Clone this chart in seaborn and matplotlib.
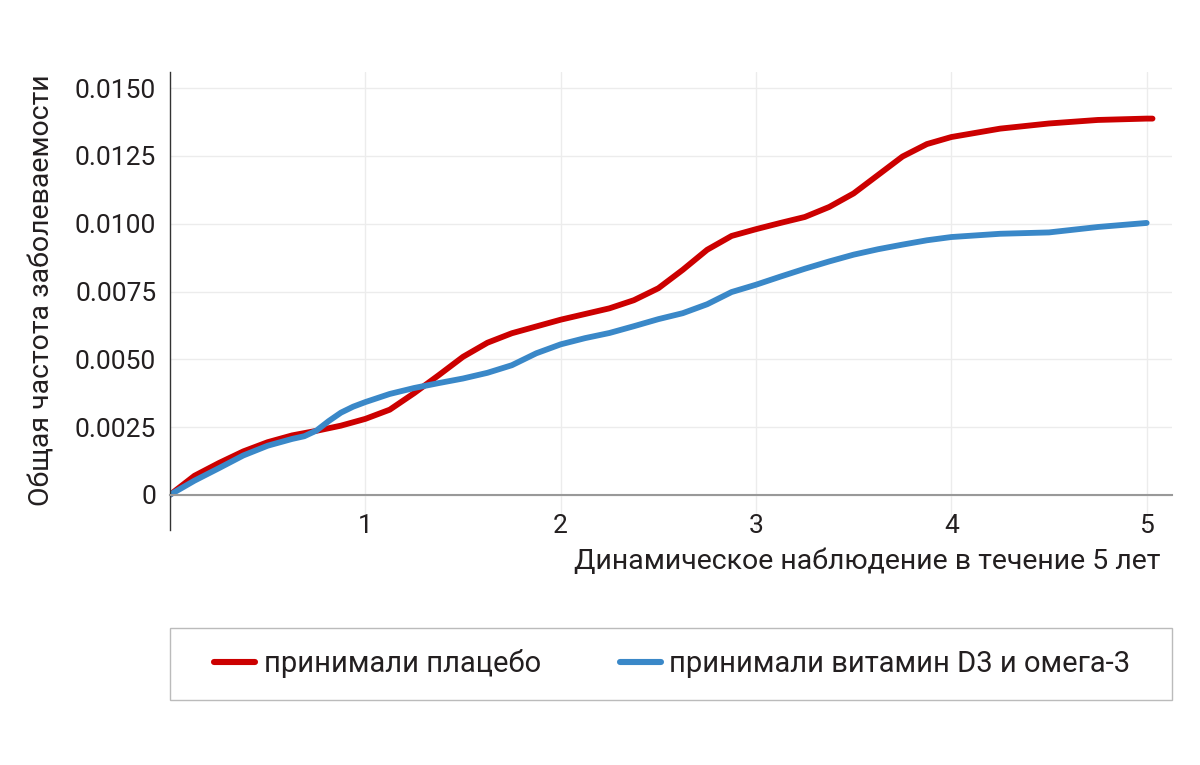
import numpy as np
import pandas as pd
import matplotlib
matplotlib.use("Agg")
import matplotlib.pyplot as plt
import seaborn as sns
from matplotlib.patches import Rectangle

# values
years_placebo = [0, 0.125, 0.25, 0.375, 0.5, 0.625, 0.75, 0.875, 1.0, 1.125, 1.25, 1.375, 1.5,
                 1.625, 1.75, 1.875, 2.0, 2.125, 2.25, 2.375, 2.5, 2.625, 2.75, 2.875, 3.0,
                 3.125, 3.25, 3.375, 3.5, 3.625, 3.75, 3.875, 4.0, 4.25, 4.5, 4.75, 5.0, 5.03]
placebo = [0, 0.0007, 0.00117, 0.0016, 0.00194, 0.00219, 0.00236, 0.00255, 0.0028, 0.00314,
           0.00375, 0.00441, 0.00509, 0.00561, 0.00596, 0.00621, 0.00646, 0.00667, 0.00688,
           0.00718, 0.00762, 0.0083, 0.00904, 0.00955, 0.0098, 0.01003, 0.01025, 0.01062,
           0.01112, 0.0118, 0.01248, 0.01294, 0.0132, 0.01351, 0.0137, 0.01383, 0.01388,
           0.01388]

years_vitamin = [0, 0.125, 0.25, 0.375, 0.5, 0.625, 0.6875, 0.75, 0.8125, 0.875, 0.9375, 1.0,
                 1.125, 1.25, 1.375, 1.5, 1.625, 1.75, 1.875, 2.0, 2.125, 2.25, 2.375, 2.5,
                 2.625, 2.75, 2.875, 3.0, 3.125, 3.25, 3.375, 3.5, 3.625, 3.75, 3.875, 4.0,
                 4.25, 4.5, 4.75, 5.0]
vitamin = [0, 0.00052, 0.00098, 0.00145, 0.00181, 0.00206, 0.00216, 0.00237, 0.00272, 0.00303,
           0.00325, 0.00342, 0.00372, 0.00394, 0.00412, 0.00429, 0.0045, 0.00478, 0.00522,
           0.00555, 0.00578, 0.00597, 0.00622, 0.00648, 0.0067, 0.00703, 0.00748, 0.00775,
           0.00805, 0.00834, 0.00861, 0.00886, 0.00906, 0.00923, 0.00939, 0.00951, 0.00963,
           0.00968, 0.00988, 0.01003]

group_names = ["принимали плацебо", "принимали витамин D3 и омега-3"]
colors = ["#cc0000", "#3a88c8"]

y_ticks = [0, 0.0025, 0.005, 0.0075, 0.01, 0.0125, 0.015]
y_labels = ["0", "0.0025", "0.0050", "0.0075", "0.0100", "0.0125", "0.0150"]
x_ticks = [1, 2, 3, 4, 5]

df = pd.concat([
    pd.DataFrame({"year": years_placebo, "rate": placebo, "group": group_names[0]}),
    pd.DataFrame({"year": years_vitamin, "rate": vitamin, "group": group_names[1]}),
])

sns.set_theme(style="white")
plt.rcParams['font.family'] = ['Roboto', 'DejaVu Sans']
text_color = "#231f20"

fig = plt.figure(figsize=(12, 7.65), dpi=100)
ax = fig.add_axes([0.1417, 0.3072, 0.835, 0.5987])

sns.lineplot(data=df, x="year", y="rate", hue="group", palette=colors,
             hue_order=group_names, linewidth=4.2, ax=ax, legend=False,
             sort=False, estimator=None)
for line in ax.lines:
    line.set_solid_capstyle("round")
    line.set_solid_joinstyle("round")

ax.set_xlim(0, 5.13)
ax.set_ylim(-0.0013, 0.0156)
ax.set_xticks(x_ticks)
ax.set_xticklabels([str(t) for t in x_ticks])
ax.set_yticks(y_ticks)
ax.set_yticklabels(y_labels)

ax.grid(True, color="#ececec", linewidth=1)
ax.set_axisbelow(True)
ax.spines['bottom'].set_position(('data', 0))
ax.spines['bottom'].set_color("#999999")
ax.spines['bottom'].set_linewidth(1.5)
ax.spines['left'].set_color("#333333")
ax.spines['left'].set_linewidth(1)
ax.spines['top'].set_visible(False)
ax.spines['right'].set_visible(False)

ax.tick_params(axis='both', which='major', labelsize=19, colors=text_color,
               length=6, width=1, direction='out')
ax.tick_params(axis='x', color="#333333", pad=8)
ax.tick_params(axis='y', color="#333333", pad=4)

ax.set_xlabel("Динамическое наблюдение в течение 5 лет", fontsize=20.5,
              color=text_color, loc='right')
ax.xaxis.set_label_coords(990 / 1002, -0.04)
ax.set_ylabel("Общая частота заболеваемости", fontsize=20.5, color=text_color)
ax.yaxis.set_label_coords(-0.114, 0.524)

# legend box spanning the plot width
fig.patches.append(Rectangle((170 / 1200, 1 - 700 / 765), 1002 / 1200, 72 / 765,
                             transform=fig.transFigure, fill=False,
                             edgecolor="#bbbbbb", linewidth=1))
handles = [plt.Line2D([], [], color=c, linewidth=4.4, solid_capstyle="round") for c in colors]
fig.legend(handles, group_names, loc="center left",
           bbox_to_anchor=(188 / 1200, 1 - 664 / 765), ncol=2, frameon=False,
           fontsize=21, handlelength=1.4, handletextpad=0.3, columnspacing=2.7,
           labelcolor=text_color)

fig.savefig("out.png", dpi=100, facecolor="white")
